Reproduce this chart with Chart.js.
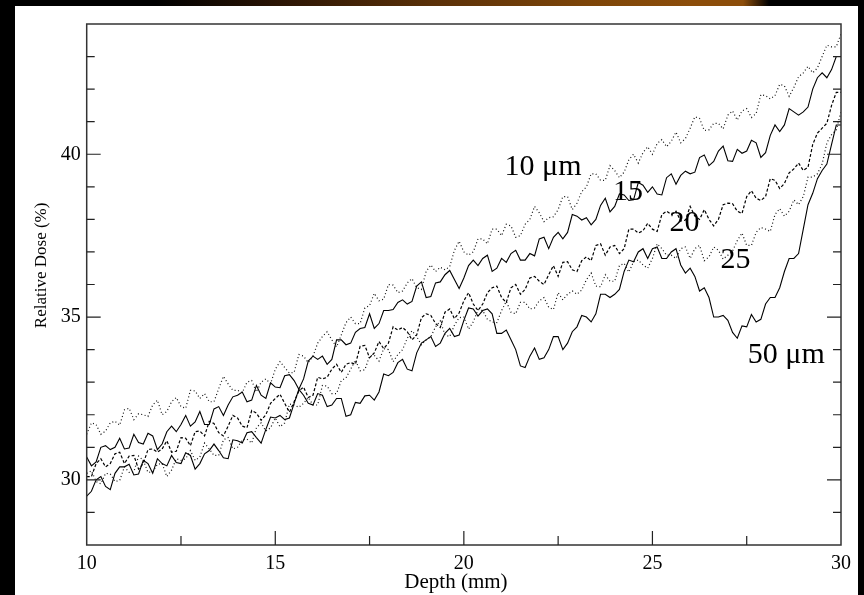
<!DOCTYPE html>
<html>
<head>
<meta charset="utf-8">
<title>Relative Dose vs Depth</title>
<script src="https://cdn.jsdelivr.net/npm/chart.js@4.4.1/dist/chart.umd.min.js"></script>
<style>
    html, body { margin: 0; padding: 0; background: #000; overflow: hidden; }
    #band {
        position: absolute; left: 0; top: 0; width: 864px; height: 6px;
        background: linear-gradient(90deg, #000 0%, #000 18%, #2a1404 32%, #5a3008 50%, #7d4508 68%, #8c4d0a 80%, #8c4d0a 86%, #000 89%, #000 100%);
    }
    #panel {
        position: absolute; left: 15px; top: 6px; width: 843px; height: 589px; background: #fff;
    }
</style>
</head>
<body>
<div id="band"></div>
<div id="panel"><canvas id="doseChart"></canvas></div>
<script>
// Depth (mm)
const depth = [
    10, 10.125, 10.25, 10.375, 10.5, 10.625, 10.75, 10.875,
    11, 11.125, 11.25, 11.375, 11.5, 11.625, 11.75, 11.875,
    12, 12.125, 12.25, 12.375, 12.5, 12.625, 12.75, 12.875,
    13, 13.125, 13.25, 13.375, 13.5, 13.625, 13.75, 13.875,
    14, 14.125, 14.25, 14.375, 14.5, 14.625, 14.75, 14.875,
    15, 15.125, 15.25, 15.375, 15.5, 15.625, 15.75, 15.875,
    16, 16.125, 16.25, 16.375, 16.5, 16.625, 16.75, 16.875,
    17, 17.125, 17.25, 17.375, 17.5, 17.625, 17.75, 17.875,
    18, 18.125, 18.25, 18.375, 18.5, 18.625, 18.75, 18.875,
    19, 19.125, 19.25, 19.375, 19.5, 19.625, 19.75, 19.875,
    20, 20.125, 20.25, 20.375, 20.5, 20.625, 20.75, 20.875,
    21, 21.125, 21.25, 21.375, 21.5, 21.625, 21.75, 21.875,
    22, 22.125, 22.25, 22.375, 22.5, 22.625, 22.75, 22.875,
    23, 23.125, 23.25, 23.375, 23.5, 23.625, 23.75, 23.875,
    24, 24.125, 24.25, 24.375, 24.5, 24.625, 24.75, 24.875,
    25, 25.125, 25.25, 25.375, 25.5, 25.625, 25.75, 25.875,
    26, 26.125, 26.25, 26.375, 26.5, 26.625, 26.75, 26.875,
    27, 27.125, 27.25, 27.375, 27.5, 27.625, 27.75, 27.875,
    28, 28.125, 28.25, 28.375, 28.5, 28.625, 28.75, 28.875,
    29, 29.125, 29.25, 29.375, 29.5, 29.625, 29.75, 29.875,
    30
];

// Relative dose (%) for each wire size
const dose10 = [
    31.4, 31.75, 31.7, 31.4, 31.5, 31.75, 31.8, 31.68, 32.15, 32.2,
    31.85, 32.03, 32.0, 31.95, 32.3, 32.45, 32.0, 32.1, 32.4, 32.53,
    32.25, 32.2, 32.75, 32.73, 32.5, 32.65, 32.4, 32.4, 32.8, 33.18,
    32.95, 32.75, 32.75, 32.68, 33.0, 33.05, 32.7, 33.0, 33.1, 32.95,
    33.4, 33.63, 33.45, 33.28, 33.3, 33.85, 33.8, 33.6, 33.8, 34.2,
    34.4, 34.55, 34.3, 34.08, 34.45, 34.83, 35.0, 34.8, 34.8, 35.28,
    35.35, 35.73, 35.5, 35.55, 36.0, 35.98, 35.75, 35.8, 36.05, 36.18,
    35.9, 35.85, 36.4, 36.6, 36.4, 36.53, 36.45, 36.55, 37.05, 37.33,
    37.0, 36.9, 37.0, 37.4, 37.4, 37.25, 37.7, 37.7, 37.5, 37.85,
    37.8, 37.45, 37.5, 37.85, 38.0, 38.4, 38.2, 37.93, 38.05, 38.08,
    38.3, 38.7, 38.7, 38.3, 38.5, 38.85, 39.0, 39.4, 39.4, 39.2,
    39.2, 39.65, 39.5, 39.28, 39.45, 39.83, 40.0, 39.73, 40.05, 40.23,
    40.0, 40.33, 40.45, 40.23, 40.4, 40.68, 40.35, 40.48, 40.8, 41.15,
    41.1, 40.73, 40.75, 40.95, 40.95, 40.78, 41.2, 41.33, 41.05, 41.33,
    41.4, 41.13, 41.25, 41.83, 41.8, 41.7, 41.8, 42.15, 42.1, 41.78,
    42.05, 42.38, 42.5, 42.7, 42.5, 42.65, 43.0, 43.35, 43.3, 43.3,
    43.7
];
const dose15 = [
    30.7, 30.43, 30.55, 31.0, 31.05, 30.93, 31.0, 31.28, 30.95, 30.98,
    31.4, 31.15, 31.1, 31.43, 31.35, 30.93, 31.1, 31.48, 31.65, 31.48,
    31.7, 31.98, 31.65, 31.78, 32.1, 31.7, 31.7, 32.18, 32.25, 31.98,
    32.3, 32.55, 32.6, 32.7, 32.4, 32.45, 32.9, 32.6, 32.5, 32.98,
    32.85, 32.83, 33.2, 33.23, 33.05, 32.78, 33.1, 33.65, 33.8, 33.7,
    33.8, 33.55, 33.7, 34.3, 34.3, 34.15, 34.2, 34.53, 34.65, 34.68,
    35.1, 34.65, 34.8, 35.2, 35.2, 35.23, 35.45, 35.53, 35.4, 35.48,
    35.95, 36.08, 35.6, 35.63, 36.05, 36.08, 36.3, 36.43, 36.15, 35.88,
    36.2, 36.58, 36.75, 36.58, 36.8, 36.9, 36.4, 36.5, 36.8, 36.68,
    36.95, 37.05, 36.75, 36.75, 36.95, 36.88, 37.4, 37.45, 37.1, 37.45,
    37.6, 37.4, 37.6, 38.15, 38.1, 37.98, 38.05, 37.83, 38.0, 38.43,
    38.65, 38.23, 38.4, 38.78, 38.75, 38.58, 38.6, 39.13, 39.05, 38.83,
    39.0, 38.78, 38.75, 39.28, 39.4, 39.08, 39.35, 39.48, 39.4, 39.45,
    39.9, 39.98, 39.65, 39.78, 40.1, 40.25, 39.8, 39.78, 40.15, 40.03,
    40.1, 40.43, 40.35, 39.9, 40.05, 40.58, 40.9, 40.7, 40.9, 41.4,
    41.3, 41.2, 41.3, 41.45, 42.0, 42.35, 42.5, 42.35, 42.6, 43.0,
    43.0
];
const dose20 = [
    30.1, 30.1, 30.5, 30.65, 30.4, 30.5, 30.8, 30.85, 30.5, 30.73,
    30.75, 30.33, 30.5, 30.93, 30.95, 30.85, 30.95, 31.2, 30.85, 30.88,
    31.3, 31.28, 31.05, 31.48, 31.5, 31.35, 31.8, 31.73, 31.45, 31.35,
    31.65, 31.98, 31.9, 31.65, 31.6, 32.13, 32.05, 31.83, 32.0, 32.35,
    32.5, 32.63, 32.35, 32.08, 32.4, 32.73, 32.85, 32.53, 32.6, 33.15,
    33.1, 33.15, 33.4, 33.55, 33.3, 33.55, 33.6, 33.55, 34.1, 34.13,
    33.75, 33.9, 34.25, 34.03, 34.2, 34.7, 34.6, 34.68, 34.55, 34.3,
    34.45, 34.98, 35.1, 35.05, 34.8, 34.68, 35.15, 35.25, 34.95, 35.13,
    35.5, 35.75, 35.4, 35.2, 35.4, 35.75, 35.9, 35.95, 35.6, 35.45,
    35.9, 36.0, 35.7, 35.85, 36.2, 36.25, 36.1, 36.0, 36.3, 36.58,
    36.25, 36.68, 36.7, 36.45, 36.4, 36.73, 36.85, 36.73, 37.2, 37.25,
    36.9, 37.15, 37.2, 36.95, 37.1, 37.7, 37.7, 37.58, 37.65, 37.88,
    37.7, 37.63, 38.15, 38.25, 38.15, 38.25, 37.95, 37.98, 38.4, 38.1,
    38.0, 38.3, 38.0, 37.8, 38.0, 38.45, 38.5, 38.48, 38.25, 38.18,
    38.7, 38.88, 38.65, 38.58, 38.7, 39.25, 39.2, 38.95, 39.1, 39.43,
    39.55, 39.73, 39.5, 39.6, 40.3, 40.65, 40.8, 40.95, 41.5, 41.9,
    41.9
];
const dose25 = [
    30.2, 30.28, 29.95, 29.88, 30.2, 30.18, 29.95, 29.98, 30.4, 30.23,
    30.25, 30.73, 30.6, 30.23, 30.25, 30.48, 30.5, 30.1, 30.3, 30.65,
    30.6, 30.65, 30.9, 30.6, 30.7, 31.13, 30.95, 30.75, 30.75, 31.23,
    31.3, 30.95, 31.0, 31.23, 31.25, 31.13, 31.6, 31.75, 31.5, 31.6,
    31.9, 31.63, 31.75, 32.33, 32.3, 32.23, 32.35, 32.53, 32.3, 32.3,
    32.9, 32.88, 32.65, 32.65, 33.05, 33.13, 33.4, 33.68, 33.35, 33.38,
    33.8, 33.83, 33.65, 34.03, 34.0, 33.63, 33.85, 34.0, 34.35, 34.58,
    34.4, 34.15, 34.3, 34.4, 34.7, 34.88, 34.45, 34.4, 34.75, 34.98,
    35.0, 34.63, 34.85, 35.23, 35.2, 34.93, 34.85, 34.83, 35.2, 35.48,
    35.15, 35.1, 35.45, 35.45, 35.25, 35.28, 35.5, 35.6, 35.3, 35.23,
    35.75, 35.53, 35.7, 35.8, 35.7, 35.83, 36.15, 36.35, 35.95, 35.93,
    36.3, 36.1, 36.1, 36.58, 36.65, 36.38, 36.7, 36.75, 36.6, 36.5,
    36.8, 37.25, 37.1, 36.9, 36.9, 36.8, 37.1, 37.15, 36.8, 37.1,
    37.2, 36.73, 36.85, 37.15, 37.05, 36.78, 36.9, 37.03, 37.35, 37.58,
    37.2, 37.2, 37.6, 37.75, 37.7, 37.63, 38.15, 38.33, 38.1, 38.25,
    38.6, 38.45, 38.7, 39.3, 39.3, 39.4, 39.7, 40.35, 40.6, 40.75,
    41.3
];
const dose50 = [
    29.5, 29.65, 30.0, 30.1, 29.8, 29.7, 30.2, 30.4, 30.4, 30.48,
    30.15, 30.18, 30.6, 30.5, 30.2, 30.65, 30.5, 30.43, 30.75, 30.53,
    30.5, 30.83, 30.75, 30.33, 30.5, 30.8, 30.9, 31.1, 30.9, 30.68,
    30.65, 31.23, 31.2, 31.13, 31.45, 31.48, 31.3, 31.13, 31.55, 31.93,
    31.9, 31.98, 31.85, 31.9, 32.35, 32.78, 32.6, 32.35, 32.3, 32.65,
    32.6, 32.25, 32.3, 32.5, 32.5, 31.95, 32.0, 32.38, 32.35, 32.58,
    32.6, 32.45, 32.7, 33.25, 33.2, 33.3, 33.6, 33.7, 33.4, 33.35,
    33.9, 34.2, 34.3, 34.4, 34.1, 34.2, 34.5, 34.65, 34.4, 34.45,
    34.9, 35.28, 35.25, 35.03, 35.2, 35.25, 35.1, 34.5, 34.5, 34.6,
    34.3, 34.0, 33.5, 33.45, 33.8, 34.05, 33.7, 33.75, 34.0, 34.4,
    34.4, 34.0, 34.2, 34.55, 34.7, 35.05, 35.0, 34.85, 35.1, 35.7,
    35.7, 35.6, 35.7, 35.85, 36.4, 36.75, 36.7, 37.0, 37.1, 36.8,
    37.1, 37.15, 36.8, 36.8, 37.0, 37.1, 36.6, 36.35, 36.5, 36.25,
    35.8, 35.9, 35.6, 35.0, 35.0, 35.05, 34.9, 34.53, 34.35, 34.73,
    34.7, 35.08, 34.85, 34.93, 35.4, 35.6, 35.6, 35.9, 36.4, 36.8,
    36.8, 36.95, 37.7, 38.45, 38.8, 39.25, 39.5, 39.7, 40.3, 40.9,
    40.9
];

const xTickLabels = [10, 15, 20, 25, 30];
const yTickLabels = [30, 35, 40];
const xTickMarks = [12.5, 15, 17.5, 20, 22.5, 25, 27.5];
const yTickMarks = [29, 30, 31, 32, 33, 34, 35, 36, 37, 38, 39, 40, 41, 42, 43];

// curve labels: text, depth, dose
const curveNames = ['10 μm', '15', '20', '25', '50 μm'];
const curveNameX = [22.1, 24.35, 25.85, 27.2, 28.55];
const curveNameY = [39.6, 38.83, 37.87, 36.75, 33.83];

const serif = '"Liberation Serif", "Times New Roman", serif';
const nb = '\u00a0';

const pts = arr => depth.map((d, i) => ({ x: d, y: arr[i] }));

const frameAndLabels = {
    id: 'frameAndLabels',
    afterDraw(chart) {
        const { ctx, chartArea: a, scales: { x, y } } = chart;
        ctx.save();

        // frame
        ctx.strokeStyle = '#333';
        ctx.lineWidth = 1.5;
        ctx.strokeRect(a.left, a.top, a.right - a.left, a.bottom - a.top);

        // inward ticks
        ctx.strokeStyle = '#222';
        ctx.lineWidth = 1.2;
        ctx.beginPath();
        xTickMarks.forEach(v => {
            const px = x.getPixelForValue(v);
            const len = v % 5 === 0 ? 14 : 9;
            ctx.moveTo(px, a.bottom);
            ctx.lineTo(px, a.bottom - len);
        });
        yTickMarks.forEach(v => {
            const py = y.getPixelForValue(v);
            const len = v % 5 === 0 ? 14 : 8;
            ctx.moveTo(a.left, py);
            ctx.lineTo(a.left + len, py);
            ctx.moveTo(a.right, py);
            ctx.lineTo(a.right - len, py);
        });
        ctx.stroke();

        // curve names
        ctx.fillStyle = '#000';
        ctx.font = '30px ' + serif;
        ctx.textAlign = 'center';
        ctx.textBaseline = 'middle';
        curveNames.forEach((t, i) => {
            ctx.fillText(t, x.getPixelForValue(curveNameX[i]), y.getPixelForValue(curveNameY[i]));
        });
        ctx.restore();
    }
};

const dotted = [1, 2.5];
const dashed = [3, 2];

new Chart(document.getElementById('doseChart'), {
    type: 'line',
    data: {
        datasets: [
            { label: '10 μm', data: pts(dose10), borderColor: '#111', borderWidth: 1.2, borderDash: dotted },
            { label: '15 μm', data: pts(dose15), borderColor: '#000', borderWidth: 1.1 },
            { label: '20 μm', data: pts(dose20), borderColor: '#000', borderWidth: 1.2, borderDash: dashed },
            { label: '25 μm', data: pts(dose25), borderColor: '#111', borderWidth: 1.2, borderDash: dotted },
            { label: '50 μm', data: pts(dose50), borderColor: '#000', borderWidth: 1.1 }
        ]
    },
    options: {
        responsive: true,
        maintainAspectRatio: false,
        animation: false,
        elements: { point: { radius: 0 }, line: { tension: 0 } },
        layout: { padding: { top: 9, right: 16, left: 0, bottom: 0 } },
        plugins: { legend: { display: false }, tooltip: { enabled: false } },
        scales: {
            x: {
                type: 'linear',
                min: 10,
                max: 30,
                afterBuildTicks: s => { s.ticks = xTickLabels.map(v => ({ value: v })); },
                afterFit: s => { s.height = 50; },
                grid: { display: false, drawTicks: false },
                border: { display: false },
                ticks: { color: '#000', padding: 7, font: { family: serif, size: 20 }, maxRotation: 0 },
                title: { display: true, text: 'Depth (mm)' + nb.repeat(3), color: '#000', font: { family: serif, size: 21 }, padding: { top: 0, bottom: 0 } }
            },
            y: {
                type: 'linear',
                min: 28,
                max: 44,
                afterBuildTicks: s => { s.ticks = yTickLabels.map(v => ({ value: v })); },
                afterFit: s => { s.width = 71.7; },
                grid: { display: false, drawTicks: false },
                border: { display: false },
                ticks: { color: '#000', padding: 6, font: { family: serif, size: 20 } },
                title: { display: true, text: nb.repeat(9) + 'Relative Dose (%)', color: '#000', font: { family: serif, size: 17 }, padding: { top: 16, bottom: 0 } }
            }
        }
    },
    plugins: [frameAndLabels]
});
</script>
</body>
</html>
